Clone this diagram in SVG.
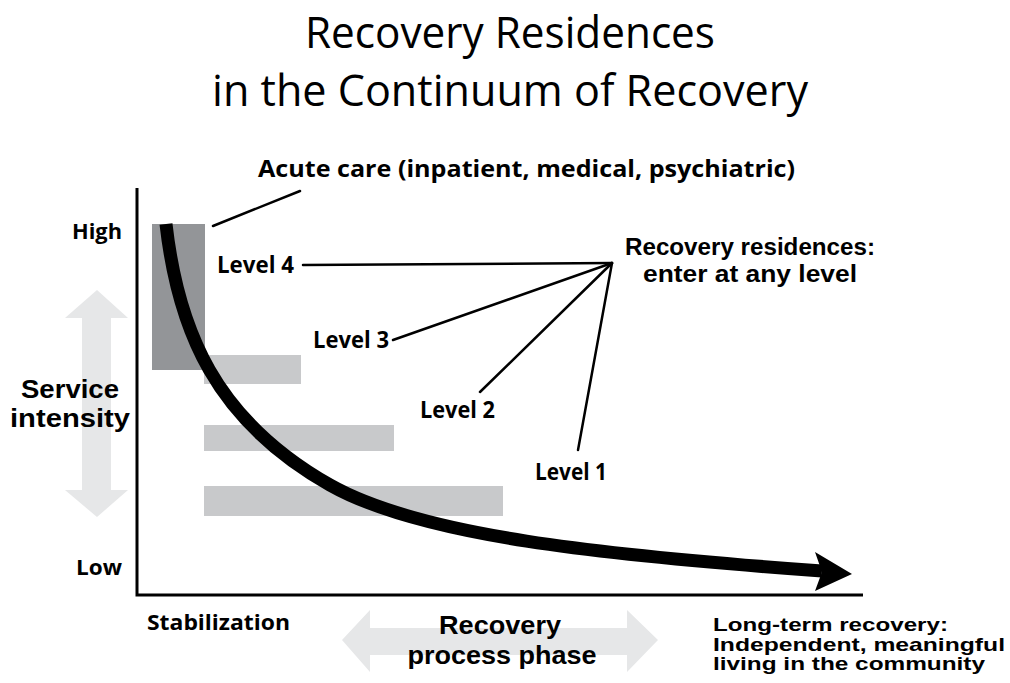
<svg xmlns="http://www.w3.org/2000/svg" width="1010" height="683" viewBox="0 0 1010 683">
<style>
.t{font-family:"Open Sans","Noto Sans",sans-serif;fill:#000}
.b{font-family:"Open Sans","Liberation Sans",sans-serif;font-weight:700;fill:#000}
.c{font-family:"Liberation Sans",Arial,sans-serif;font-weight:700;fill:#000}
.lead{stroke:#000;stroke-width:2.5;fill:none;stroke-linecap:round}
.dark{fill:#939598}
.light{fill:#c8c9cb}
.pale{fill:#e6e7e8}
</style>
<rect width="1010" height="683" fill="#fff"/>
<g id="title">
<text class="t" x="510" y="48" font-size="43" text-anchor="middle" textLength="410" lengthAdjust="spacingAndGlyphs">Recovery Residences</text>
<text class="t" x="510" y="106" font-size="43" text-anchor="middle" textLength="596" lengthAdjust="spacingAndGlyphs">in the Continuum of Recovery</text>
</g>
<g id="axis-arrows">
<polygon class="pale" points="97,290 128,318 111,318 111,490 128,490 97,517 65,490 82,490 82,318 65,318"/>
<polygon class="pale" points="342,640 370,610 370,628 627,628 627,610 658,640 627,672 627,655 370,655 370,672"/>
</g>
<g id="bars">
<rect id="level1-bar" class="light" x="204" y="486" width="299" height="30"/>
<rect id="level2-bar" class="light" x="204" y="425" width="190" height="26"/>
<rect id="level3-bar" class="light" x="204" y="355" width="97" height="29"/>
<rect id="acute-bar" class="dark" x="152" y="224" width="53" height="146"/>
</g>
<g id="axes">
<path d="M137,188 V595 H863" stroke="#000" stroke-width="3" fill="none"/>
</g>
<g id="connectors">
<path d="M166,224 C178,330 215,420 330,485 C420,536 600,555 822,571" stroke="#000" stroke-width="13" fill="none"/>
<polygon points="815,552 852,574 815,591 822,572" fill="#000"/>
<line class="lead" x1="213" y1="226" x2="300" y2="191"/>
<line class="lead" x1="303" y1="265" x2="612" y2="263"/>
<line class="lead" x1="393" y1="340" x2="612" y2="263"/>
<line class="lead" x1="480" y1="392" x2="612" y2="263"/>
<line class="lead" x1="578" y1="450" x2="612" y2="263"/>
</g>
<g id="acute-label"><text class="b" x="258" y="177" font-size="24" textLength="537" lengthAdjust="spacingAndGlyphs">Acute care (inpatient, medical, psychiatric)</text></g>
<g id="high-label"><text class="b" x="122" y="239" font-size="21" text-anchor="end" textLength="50" lengthAdjust="spacingAndGlyphs">High</text></g>
<g id="low-label"><text class="b" x="122" y="575" font-size="21" text-anchor="end" textLength="46" lengthAdjust="spacingAndGlyphs">Low</text></g>
<g id="service-label">
<text class="c" x="70" y="398" font-size="25" text-anchor="middle" textLength="98" lengthAdjust="spacingAndGlyphs">Service</text>
<text class="c" x="70" y="427" font-size="25" text-anchor="middle" textLength="120" lengthAdjust="spacingAndGlyphs">intensity</text>
</g>
<g id="level4"><text class="b" x="217" y="273" font-size="23" textLength="77" lengthAdjust="spacingAndGlyphs">Level 4</text></g>
<g id="level3"><text class="b" x="313" y="348" font-size="23" textLength="76" lengthAdjust="spacingAndGlyphs">Level 3</text></g>
<g id="level2"><text class="b" x="420" y="418" font-size="23" textLength="75" lengthAdjust="spacingAndGlyphs">Level 2</text></g>
<g id="level1"><text class="b" x="535" y="480" font-size="23" textLength="72" lengthAdjust="spacingAndGlyphs">Level 1</text></g>
<g id="residences-label">
<text class="c" x="750" y="255" font-size="23" text-anchor="middle" textLength="250" lengthAdjust="spacingAndGlyphs">Recovery residences:</text>
<text class="c" x="750" y="282" font-size="23" text-anchor="middle" textLength="214" lengthAdjust="spacingAndGlyphs">enter at any level</text>
</g>
<g id="stabilization-label"><text class="b" x="147" y="630" font-size="22" textLength="143" lengthAdjust="spacingAndGlyphs">Stabilization</text></g>
<g id="phase-label">
<text class="c" x="500" y="634" font-size="26" text-anchor="middle" textLength="122" lengthAdjust="spacingAndGlyphs">Recovery</text>
<text class="c" x="502" y="664" font-size="26" text-anchor="middle" textLength="189" lengthAdjust="spacingAndGlyphs">process phase</text>
</g>
<g id="longterm-label">
<text class="c" x="713" y="631" font-size="19" textLength="235" lengthAdjust="spacingAndGlyphs">Long-term recovery:</text>
<text class="c" x="713" y="651" font-size="19" textLength="292" lengthAdjust="spacingAndGlyphs">Independent, meaningful</text>
<text class="c" x="713" y="670" font-size="19" textLength="272" lengthAdjust="spacingAndGlyphs">living in the community</text>
</g>
</svg>
